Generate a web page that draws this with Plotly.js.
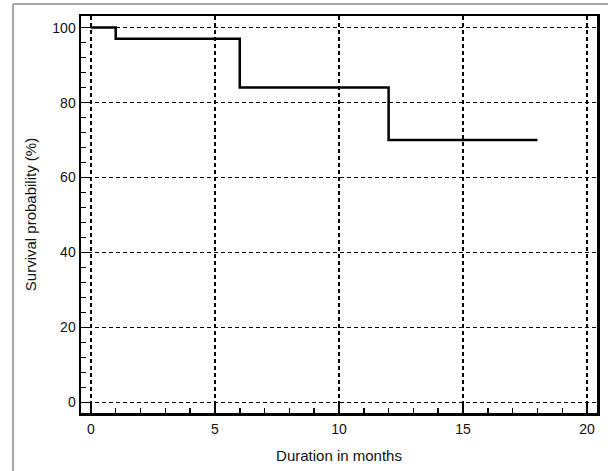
<!DOCTYPE html>
<html>
<head>
<meta charset="utf-8">
<script src="https://cdn.plot.ly/plotly-3.0.1.min.js"></script>
<style>
html,body{margin:0;padding:0;background:#fff;}
#chart{width:608px;height:471px;}
</style>
</head>
<body>
<div id="chart"></div>
<script>
// Kaplan-Meier step data
const months = [0, 1, 6, 12, 18];
const survival = [100, 97, 84, 70, 70];
const xTicks = [0, 5, 10, 15, 20];
const yTicks = [0, 20, 40, 60, 80, 100];

const trace = {
  x: months,
  y: survival,
  type: 'scatter',
  mode: 'lines',
  line: {shape: 'hv', color: '#000', width: 2.5},
  hoverinfo: 'skip',
  showlegend: false
};

const fontFam = 'Arial, "Liberation Sans", Helvetica, sans-serif';

const layout = {
  width: 608,
  height: 471,
  margin: {l: 81, r: 11, t: 16, b: 58, pad: 0},
  paper_bgcolor: '#fff',
  plot_bgcolor: '#fff',
  font: {family: fontFam, size: 14, color: '#111'},
  xaxis: {
    range: [-0.4, 20.4],
    tickvals: xTicks,
    ticktext: xTicks.map(String),
    ticks: 'inside',
    ticklen: 10,
    tickwidth: 1.5,
    tickcolor: '#000',
    ticklabelstandoff: 2,
    showline: true,
    linecolor: '#000',
    linewidth: 2.5,
    mirror: true,
    showgrid: true,
    gridcolor: '#000',
    gridwidth: 1.3,
    griddash: '4px,3px',
    zeroline: false,
    minor: {dtick: 1, tick0: 0, ticks: 'inside', ticklen: 5, tickwidth: 1.5, tickcolor: '#000', showgrid: false},
    tickfont: {size: 14, color: '#111'},
    title: {text: 'Duration in months', font: {size: 15, color: '#111'}, standoff: 14}
  },
  yaxis: {
    range: [-2.8, 103.1],
    tickvals: yTicks,
    ticktext: yTicks.map(String),
    ticks: 'inside',
    ticklen: 10,
    tickwidth: 1.5,
    tickcolor: '#000',
    showline: true,
    linecolor: '#000',
    linewidth: 2.5,
    mirror: true,
    showgrid: true,
    gridcolor: '#000',
    gridwidth: 1.3,
    griddash: '4px,3px',
    zeroline: false,
    minor: {dtick: 4, tick0: 0, ticks: 'inside', ticklen: 5, tickwidth: 1.5, tickcolor: '#000', showgrid: false},
    tickfont: {size: 14, color: '#111'},
    title: {text: 'Survival probability (%)', font: {size: 15, color: '#111'}, standoff: 12}
  },
  shapes: [
    {type: 'line', xref: 'paper', yref: 'paper', x0: -0.1318, x1: -0.1318, y0: -0.2, y1: 1.0303, line: {color: '#8a8a8a', width: 1.5}},
    {type: 'line', xref: 'paper', yref: 'paper', x0: -0.1318, x1: 1.05, y0: 1.0303, y1: 1.0303, line: {color: '#8a8a8a', width: 1.5}}
  ]
};

Plotly.newPlot('chart', [trace], layout, {displayModeBar: false, staticPlot: true});
</script>
</body>
</html>
